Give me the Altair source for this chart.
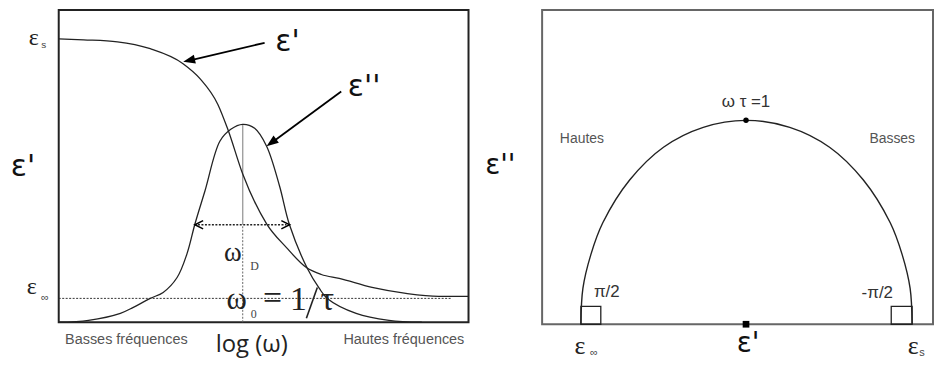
import altair as alt
import pandas as pd

# ---------------- Left panel: ε' and ε'' versus log(ω) (chart units: x 0-412, y 0-314)
eps1_x = [0, 25, 59, 92, 125, 142, 160, 170, 185, 209, 229, 249, 264, 282, 315, 349, 382, 412]
eps1_y = [285, 284, 282, 275, 260, 245, 219, 194, 149, 99, 75, 55, 48, 44, 35, 29, 26, 26]

eps2_x = [0, 30, 62, 75, 92, 105, 119, 129, 137, 147, 162, 173, 185, 197, 209, 222, 232, 250, 262, 270, 299, 332, 365]
eps2_y = [0, 2, 9, 15, 24, 30, 45, 69, 99, 132, 182, 194, 199, 195, 177, 137, 98, 54, 34, 24, 9, 2, 0]

eps_inf_level = 24
eps_inf_line_end = 394
omega0_x = 185
peak_y = 199
fwhm_x = [137, 232]
fwhm_y = 98

# ---------------- Right panel: Cole-Cole arc (chart units: x 0-393, y 0-316)
arc_x = [39, 41, 49, 61, 88, 122, 162, 205, 249, 289, 323, 350, 362, 370, 372]
arc_y = [0, 36, 70, 102, 145, 178, 198, 205, 198, 178, 145, 102, 70, 36, 0]
box_x = [[39, 59], [351, 372]]
box_h = 18
top_point = (205, 205)
center_point = (205, 0)

LW, LH = 412, 314
RW, RH = 393, 316


def enc(xd, yd):
    X = lambda f: alt.X(f, type="quantitative", scale=alt.Scale(domain=xd, nice=False, zero=False), axis=None)
    Y = lambda f: alt.Y(f, type="quantitative", scale=alt.Scale(domain=yd, nice=False, zero=False), axis=None)
    return X, Y


LX, LY = enc([0, LW], [0, LH])
RX, RY = enc([0, RW], [0, RH])


def texts(rows, X, Y, font, size, color, align="center"):
    df = pd.DataFrame(rows, columns=["t", "x", "y"])
    return alt.Chart(df).mark_text(font=font, fontSize=size, color=color, align=align,
                                   baseline="middle").encode(x=X("x"), y=Y("y"), text="t:N")


def segment(x1, y1, x2, y2, X, Y, color="black", width=1.2, dash=None, opacity=1):
    df = pd.DataFrame({"x": [x1], "y": [y1], "x2": [x2], "y2": [y2]})
    kw = dict(color=color, strokeWidth=width, opacity=opacity)
    if dash:
        kw["strokeDash"] = dash
    return alt.Chart(df).mark_rule(**kw).encode(x=X("x"), y=Y("y"), x2="x2", y2="y2")


def head(x, y, angle, X, Y, size=144):
    df = pd.DataFrame({"x": [x], "y": [y]})
    return alt.Chart(df).mark_point(shape="M 1 0 L -1 -0.75 L -1 0.75 Z", filled=True, color="black",
                                    opacity=1, size=size, angle=angle, strokeWidth=0).encode(x=X("x"), y=Y("y"))


def chevron(x, y, shape, X, Y):
    df = pd.DataFrame({"x": [x], "y": [y]})
    return alt.Chart(df).mark_point(shape=shape, filled=False, color="black", opacity=1, size=70,
                                    strokeWidth=1.5).encode(x=X("x"), y=Y("y"))


eps1 = pd.DataFrame({"x": eps1_x, "y": eps1_y})
eps2 = pd.DataFrame({"x": eps2_x, "y": eps2_y})

left_layers = [
    segment(-50, 100, -50, 200, LX, LY, color="white", width=0.5, opacity=0),  # left layout anchor
    segment(0, eps_inf_level, eps_inf_line_end, eps_inf_level, LX, LY, color="#333", width=1, dash=[2, 1.5]),
    segment(omega0_x, 0, omega0_x, fwhm_y, LX, LY, color="#666", width=1, dash=[2, 1.5]),
    segment(omega0_x, fwhm_y, omega0_x, peak_y, LX, LY, color="#999", width=1.3),
    alt.Chart(eps1).mark_line(interpolate="monotone", color="#222", strokeWidth=1.3).encode(x=LX("x"), y=LY("y")),
    alt.Chart(eps2).mark_line(interpolate="catmull-rom", color="#222", strokeWidth=1.3).encode(x=LX("x"), y=LY("y")),
    segment(fwhm_x[0] + 3, fwhm_y, fwhm_x[1] - 3, fwhm_y, LX, LY, color="#222", width=1.5, dash=[2, 1.5]),
    chevron(fwhm_x[0] + 4, fwhm_y, "M 1 -1 L -1 0 L 1 1", LX, LY),
    chevron(fwhm_x[1] - 4, fwhm_y, "M -1 -1 L 1 0 L -1 1", LX, LY),
    segment(207, 281, 131, 263, LX, LY, color="black", width=1.8),
    head(131, 263.3, 167, LX, LY),
    segment(284, 232, 214, 180.5, LX, LY, color="black", width=1.8),
    head(213.8, 180.5, 143.7, LX, LY),
    segment(249, 4, 260, 35, LX, LY, color="#222", width=1.6),
    texts([["ε'", 230, 282], ["ε''", 307, 236]], LX, LY, "DejaVu Sans", 30, "#111"),
    texts([["ε'", -36, 156]], LX, LY, "DejaVu Sans", 30, "#111"),
    texts([["ε", -25, 286], ["ε", -27, 35]], LX, LY, "Liberation Serif", 24, "#222"),
    texts([["s", -15, 279]], LX, LY, "Liberation Sans", 10, "#444"),
    texts([["∞", -14, 24]], LX, LY, "Liberation Sans", 11, "#444"),
    texts([["log (ω)", 194, -23]], LX, LY, "Open Sans", 24, "#222"),
    texts([["Basses fréquences", 68, -18], ["Hautes fréquences", 347, -18]], LX, LY, "Liberation Sans", 14.5, "#555"),
    texts([["ω", 175, 70]], LX, LY, "Liberation Serif", 27, "#222"),
    texts([["D", 197, 57], ["0", 196, 8]], LX, LY, "Liberation Serif", 12, "#444"),
    texts([["ω", 179, 22]], LX, LY, "Liberation Serif", 31, "#222"),
    texts([["=", 215, 23], ["1", 241, 22], ["τ", 270, 22]], LX, LY, "Liberation Serif", 34, "#222"),
]

left = alt.layer(*left_layers).properties(
    width=LW, height=LH, view=alt.ViewBackground(stroke="#222", strokeWidth=2))

arc = pd.DataFrame({"x": arc_x, "y": arc_y, "i": list(range(len(arc_x)))})
boxes = pd.DataFrame({"x": [b[0] for b in box_x], "x2": [b[1] for b in box_x], "y": [0, 0], "y2": [box_h, box_h]})
topdf = pd.DataFrame({"x": [top_point[0]], "y": [top_point[1]]})
cdf = pd.DataFrame({"x": [center_point[0]], "y": [center_point[1]]})

right_layers = [
    segment(-60, 100, -60, 200, RX, RY, color="white", width=0.5, opacity=0),  # left layout anchor
    alt.Chart(boxes).mark_rect(fill=None, stroke="#222", strokeWidth=1.3).encode(
        x=RX("x"), x2="x2", y=RY("y"), y2="y2"),
    alt.Chart(arc).mark_line(interpolate="catmull-rom", color="#222", strokeWidth=1.4).encode(
        x=RX("x"), y=RY("y"), order="i:Q"),
    alt.Chart(topdf).mark_point(shape="circle", filled=True, color="black", opacity=1, size=30).encode(
        x=RX("x"), y=RY("y")),
    alt.Chart(cdf).mark_point(shape="square", filled=True, color="black", opacity=1, size=45).encode(
        x=RX("x"), y=RY("y")),
    texts([["ω  τ =1", 205, 223]], RX, RY, "Liberation Sans", 17, "#333"),
    texts([["Hautes", 40, 186], ["Basses", 352, 186]], RX, RY, "Liberation Sans", 14, "#555"),
    texts([["π/2", 65, 32], ["-π/2", 337, 31]], RX, RY, "Liberation Sans", 17, "#333"),
    texts([["ε", 38, -22], ["ε", 373, -22]], RX, RY, "Liberation Serif", 26, "#222"),
    texts([["∞", 52, -29], ["s", 382, -29]], RX, RY, "Liberation Sans", 11, "#444"),
    texts([["ε'", 207, -20]], RX, RY, "DejaVu Sans", 28, "#111"),
    texts([["ε''", -42, 159]], RX, RY, "DejaVu Sans", 28, "#111"),
]

right = alt.layer(*right_layers).properties(
    width=RW, height=RH, view=alt.ViewBackground(stroke="#666", strokeWidth=2))

chart = alt.hconcat(left, right, spacing=9).properties(padding=0).configure(background="white")

chart.save("out.html", embed_options={"renderer": "svg", "actions": False})
